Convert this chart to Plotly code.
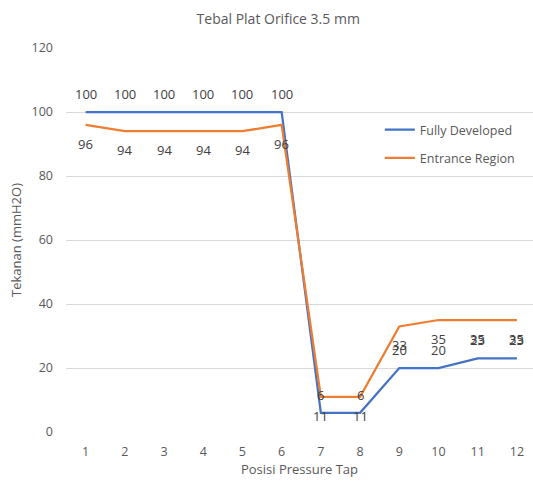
import plotly.graph_objects as go

positions = [1, 2, 3, 4, 5, 6, 7, 8, 9, 10, 11, 12]
fully_developed = [100, 100, 100, 100, 100, 100, 6, 6, 20, 20, 23, 23]
entrance_region = [96, 94, 94, 94, 94, 96, 11, 11, 33, 35, 35, 35]
y_ticks = [0, 20, 40, 60, 80, 100, 120]

font_family = "Open Sans, Liberation Sans, sans-serif"
label_color = "#404040"

fig = go.Figure()
fig.add_trace(go.Scatter(
    x=positions, y=fully_developed, mode="lines", name="Fully Developed",
    line=dict(color="#4472C4", width=2.25), legendgroup="a", cliponaxis=False,
))
fig.add_trace(go.Scatter(
    x=positions, y=entrance_region, mode="lines", name="Entrance Region",
    line=dict(color="#ED7D31", width=2.25), legendgroup="b", cliponaxis=False,
))

annotations = []
for xv, yv in zip(positions, fully_developed):
    annotations.append(dict(x=xv, y=yv, text=str(yv), showarrow=False, yshift=18,
                            xanchor="center", yanchor="middle",
                            font=dict(size=13, color=label_color, family=font_family)))
for xv, yv in zip(positions, entrance_region):
    annotations.append(dict(x=xv, y=yv, text=str(yv), showarrow=False, yshift=-19,
                            xanchor="center", yanchor="middle",
                            font=dict(size=13, color=label_color, family=font_family)))

fig.update_layout(
    width=533, height=482,
    margin=dict(l=66, r=0, t=48, b=50, autoexpand=False),
    paper_bgcolor="white", plot_bgcolor="white",
    font=dict(family=font_family, color="#595959", size=12),
    title=dict(text="Tebal Plat Orifice 3.5 mm", x=0.522, xanchor="center",
               y=0.96, yanchor="middle", font=dict(size=14, color="#595959")),
    showlegend=True,
    legend=dict(x=0.672, y=0.75, xanchor="left", yanchor="middle",
                bgcolor="rgba(0,0,0,0)", font=dict(size=12.5, color="#595959"),
                traceorder="grouped", tracegroupgap=9, itemwidth=30),
    annotations=annotations,
    xaxis=dict(
        range=[0.5, 12.41], tickvals=positions, ticktext=[str(p) for p in positions],
        showgrid=False, showline=False, zeroline=False, ticks="", automargin=False,
        ticklabelstandoff=10,
        title=dict(text="Posisi Pressure Tap", font=dict(size=13, color="#595959"), standoff=6),
        tickfont=dict(size=12.5, color="#595959"),
    ),
    yaxis=dict(
        range=[0, 120], tickvals=y_ticks, showgrid=True, gridcolor="#D9D9D9",
        gridwidth=1, zeroline=False, showline=False, ticks="", automargin=False,
        ticklabelstandoff=12,
        title=dict(text="Tekanan (mmH2O)", font=dict(size=13, color="#595959"), standoff=6),
        tickfont=dict(size=12.5, color="#595959"),
    ),
)

fig.write_html("out.html", config={"displayModeBar": False},
               post_script="document.body.style.margin='0';document.body.style.overflow='hidden';")
